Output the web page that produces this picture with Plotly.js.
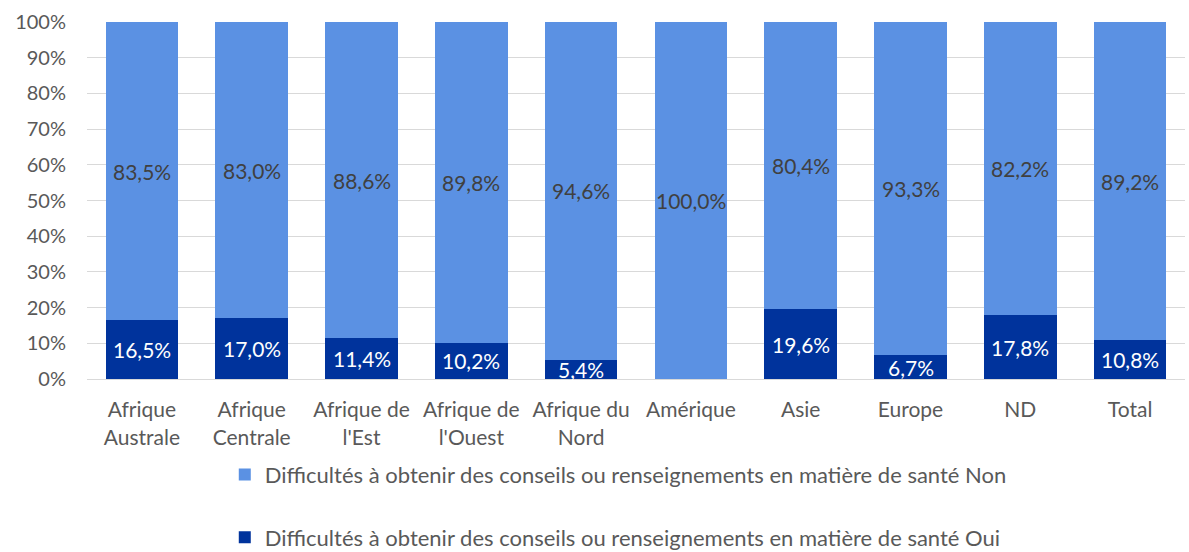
<!DOCTYPE html>
<html>
<head>
<meta charset="utf-8">
<script src="https://cdn.plot.ly/plotly-3.0.1.min.js"></script>
<style>html,body{margin:0;padding:0;background:#fff;}</style>
</head>
<body>
<div id="chart" style="width:1189px;height:552px;"></div>
<script>
const categories = ["Afrique<br>Australe", "Afrique<br>Centrale", "Afrique de<br>l'Est", "Afrique de<br>l'Ouest", "Afrique du<br>Nord", "Amérique", "Asie", "Europe", "ND", "Total"];
const oui = [16.5, 17.0, 11.4, 10.2, 5.4, 0, 19.6, 6.7, 17.8, 10.8];
const non = [83.5, 83.0, 88.6, 89.8, 94.6, 100.0, 80.4, 93.3, 82.2, 89.2];
const nameNon = "Difficultés à obtenir des conseils ou renseignements en matière de santé Non";
const nameOui = "Difficultés à obtenir des conseils ou renseignements en matière de santé Oui";

const FONT = "Lato, 'Noto Sans', sans-serif";
const fmt = v => v.toFixed(1).replace('.', ',') + '%';

const traces = [
  {type: 'bar', x: categories, y: oui, name: nameOui, marker: {color: '#00339C'}, legendgroup: 'b', legendrank: 2, hoverinfo: 'none'},
  {type: 'bar', x: categories, y: non, name: nameNon, marker: {color: '#5B91E3'}, legendgroup: 'a', legendrank: 1, hoverinfo: 'none'}
];

const annotations = [];
categories.forEach((c, i) => {
  if (oui[i] > 0) {
    annotations.push({x: c, y: oui[i] / 2, text: fmt(oui[i]), showarrow: false, font: {family: FONT, size: 21, color: '#FFFFFF'}});
  }
  annotations.push({x: c, y: oui[i] + non[i] / 2, text: fmt(non[i]), showarrow: false, font: {family: FONT, size: 21, color: '#404040'}});
});

const layout = {
  width: 1189, height: 552,
  margin: {l: 87, r: 4, t: 22, b: 173, autoexpand: false},
  barmode: 'stack',
  bargap: 0.34,
  paper_bgcolor: '#fff', plot_bgcolor: '#fff',
  font: {family: FONT, size: 21, color: '#595959'},
  showlegend: true,
  legend: {orientation: 'v', x: 0.52, xanchor: 'center', xref: 'container', y: 0.178, yanchor: 'top', yref: 'container', traceorder: 'grouped', tracegroupgap: 31, font: {family: FONT, size: 22, color: '#595959'}, itemwidth: 30},
  xaxis: {type: 'category', showgrid: false, showline: true, linecolor: '#D9D9D9', linewidth: 1, ticks: '', ticklabelstandoff: 12, tickfont: {family: FONT, size: 21, color: '#595959'}, fixedrange: true},
  yaxis: {range: [0, 100], dtick: 10, ticksuffix: '%', showgrid: true, gridcolor: '#D9D9D9', gridwidth: 1, zeroline: false, showline: false, ticks: '', ticklabelstandoff: 20, tickfont: {family: FONT, size: 20, color: '#595959'}, fixedrange: true},
  annotations: annotations
};

Plotly.newPlot('chart', traces, layout, {displayModeBar: false, staticPlot: true});
</script>
</body>
</html>
